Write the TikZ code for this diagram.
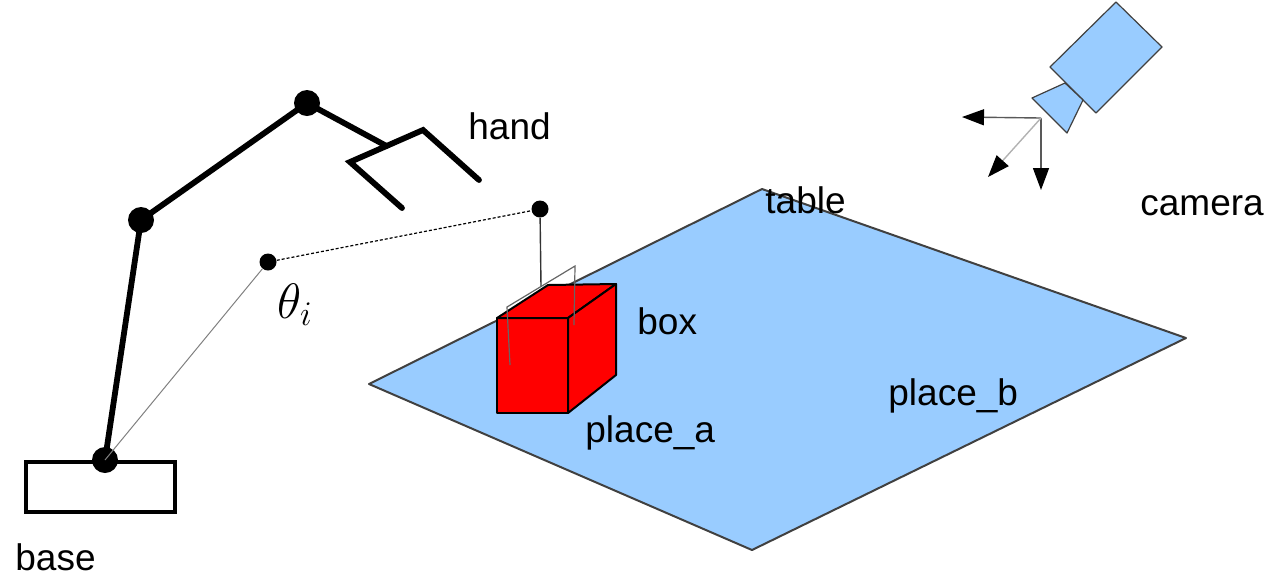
\documentclass[tikz,border=0pt]{standalone}
\usepackage{amsmath}
\usepackage{fontspec}
\setmainfont{Liberation Sans}
\usepackage{tikz}
\usetikzlibrary{arrows.meta, positioning, calc}
\definecolor{tableblue}{HTML}{99CCFF}
\definecolor{edgegray}{HTML}{404040}

\begin{document}
\begin{tikzpicture}[x=0.5pt, y=-0.5pt,
    joint/.style={circle, fill=black, inner sep=0pt, minimum size=13pt},
    dot/.style={circle, fill=black, inner sep=0pt, minimum size=8.5pt},
    link/.style={line width=2.9pt, line cap=round},
    label/.style={anchor=base west, inner sep=0pt, font=\fontsize{18.5}{22}\selectfont},
    tabletop/.style={fill=tableblue, draw=edgegray, line width=1pt, line join=round},
    boxface/.style={fill=red, draw=black, line width=1pt, line join=round},
    wire/.style={draw=gray!80!black, line width=0.6pt},
    axis/.style={draw=gray!70!black, line width=0.7pt, -{Triangle[length=11pt, width=8pt, color=black]}}
]
    \useasboundingbox (0,0) rectangle (1279,586);
    % table
    \coordinate (tL) at (369,384);
    \coordinate (tT) at (762,189);
    \coordinate (tR) at (1186,338);
    \coordinate (tB) at (752,550);
    \draw[tabletop] (tL) -- (tT) -- (tR) -- (tB) -- cycle;
    % box
    \coordinate (bA) at (497,318);
    \coordinate (bB) at (568,318);
    \coordinate (bC) at (568,413);
    \coordinate (bD) at (497,413);
    \coordinate (bE) at (548,285);
    \coordinate (bF) at (616,284);
    \coordinate (bG) at (616,375);
    \draw[boxface] (bA) -- (bB) -- (bC) -- (bD) -- cycle;
    \draw[boxface] (bA) -- (bE) -- (bF) -- (bB) -- cycle;
    \draw[boxface] (bB) -- (bF) -- (bG) -- (bC) -- cycle;
    % base and arm
    \draw[line width=2pt] (26,462) rectangle (175,512);
    \node[joint] (j0) at (105,460) {};
    \node[joint] (j1) at (141,220) {};
    \node[joint] (j2) at (307,103) {};
    \coordinate (hl) at (350,162);
    \coordinate (hr) at (423,130);
    \coordinate (hc) at ($(hl)!0.5!(hr)$);
    \draw[link] (j0.center) -- (j1.center) -- (j2.center) -- (hc);
    \draw[link] (402,208) -- (hl) -- (hr) -- (479,180);
    % virtual links
    \node[dot] (d1) at (268,262) {};
    \node[dot] (d2) at (540,209) {};
    \draw[draw=gray, line width=0.5pt] (j0.center) -- (d1);
    \draw[dashed, dash pattern=on 1.5pt off 1pt, line width=0.6pt] (d1) -- (d2);
    \coordinate (gl) at (507,307);
    \coordinate (gr) at (575,266);
    \draw[draw=black!80, line width=0.7pt] (d2) -- ($(gl)!0.5!(gr)$);
    \draw[wire] (510,365) -- (gl) -- (gr) -- (574,325);
    % camera
    \draw[fill=tableblue, draw=edgegray, line width=0.6pt, line join=round]
        (1116,2) -- (1162,47) -- (1096,113) -- (1050,67) -- cycle;
    \draw[fill=tableblue, draw=edgegray, line width=0.6pt, line join=round]
        (1032,98) -- (1065,83) -- (1083,100) -- (1067,133) -- cycle;
    \coordinate (co) at (1041,118);
    \coordinate (cx) at (962,117);
    \coordinate (cy) at (1041,190);
    \coordinate (cz) at (988,177);
    \draw[axis] (co) -- (cx);
    \draw[axis] (co) -- (cy);
    \draw[axis, draw=gray!60] (co) -- (cz);
    % labels
    \node[label] (hand) at (468,139) {hand};
    \node[label] (table) at (765,213) {table};
    \node[label] (camera) at (1140,215) {camera};
    \node[label] (box) at (637,334) {box};
    \node[label] (placea) at (585,442) {place\_a};
    \node[label] (placeb) at (888,405) {place\_b};
    \node[label] (base) at (15,570) {base};
    \node[anchor=base west, inner sep=0pt, font=\fontsize{26}{30}\selectfont] (theta) at (277,318) {$\theta_{i}$};
\end{tikzpicture}
\end{document}
